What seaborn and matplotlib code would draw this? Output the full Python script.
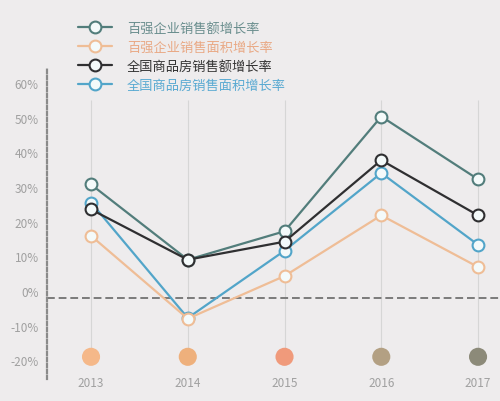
import numpy as np
import pandas as pd
import matplotlib
matplotlib.use("Agg")
import matplotlib.pyplot as plt
from matplotlib.lines import Line2D
import seaborn as sns

sns.set_style("white")
plt.rcParams['font.family'] = ['Noto Sans CJK SC', 'DejaVu Sans']

# data
years = [2013, 2014, 2015, 2016, 2017]
series_names = ["百强企业销售额增长率", "百强企业销售面积增长率",
                "全国商品房销售额增长率", "全国商品房销售面积增长率"]
top100_sales = [30.7, 9.0, 17.2, 50.3, 32.2]
top100_area = [15.9, -8.0, 4.3, 21.8, 6.9]
national_sales = [23.5, 9.0, 14.2, 37.7, 21.8]
national_area = [25.5, -7.8, 11.6, 34.0, 13.3]
yticks = [-20, -10, 0, 10, 20, 30, 40, 50, 60]
ytick_labels = ["-20%", "-10%", "0%", "10%", "20%", "30%", "40%", "50%", "60%"]
dot_colors = ["#f5b889", "#eeb07c", "#f09a7b", "#b3a083", "#8c8a79"]

line_colors = ["#527d7b", "#efbd96", "#2f2f31", "#52a5c9"]
text_colors = ["#6a8e8e", "#e9a985", "#333333", "#5aaad2"]
face = "#f4fafa"
bg = "#eeeced"

df = pd.DataFrame({
    "year": years * 4,
    "value": top100_sales + top100_area + national_sales + national_area,
    "series": sum([[n] * len(years) for n in series_names], []),
})

fig = plt.figure(figsize=(5, 4.02), dpi=100, facecolor=bg)
ax = fig.add_axes([47 / 500, 22 / 402, 453 / 500, 310 / 402])
ax.set_facecolor(bg)

sns.lineplot(data=df, x="year", y="value", hue="series", hue_order=series_names,
             palette=line_colors, marker="o", markersize=8.5, markerfacecolor=face,
             markeredgewidth=1.5, lw=1.6, legend=False, ax=ax, zorder=3)
for ln in ax.lines:
    ln.set_markeredgecolor(ln.get_color())
# orange area line sits above the blue one at 2014, black above teal
ax.lines[1].set_zorder(4)
ax.lines[2].set_zorder(5)

# light vertical guides per year
ax.vlines(years, -19, 55, color="#d6d6d6", lw=0.8, zorder=0)
# reference dashed line
ax.axhline(-2, color="#7a7a7a", lw=1.4, ls=(0, (4, 2)), zorder=1)

# coloured year dots along the bottom
sns.scatterplot(x=years, y=[-19] * len(years), hue=years, palette=dot_colors,
                s=170, edgecolor="none", legend=False, ax=ax, zorder=2)

ax.set_xlim(2012.545, 2017.227)
ax.set_ylim(-25.4, 64)
ax.set_xticks(years)
ax.set_xticklabels([str(y) for y in years])
ax.set_yticks(yticks)
ax.set_yticklabels(ytick_labels)
ax.tick_params(axis="both", length=0, labelsize=8.5, colors="#a0a0a0")
ax.tick_params(axis="y", pad=6)
ax.tick_params(axis="x", pad=-2)
ax.set_xlabel("")
ax.set_ylabel("")
for s in ["top", "right", "bottom"]:
    ax.spines[s].set_visible(False)
ax.spines["left"].set_color("#8a8a8a")
ax.spines["left"].set_linewidth(1.6)
ax.spines["left"].set_linestyle((0, (1.5, 1.2)))

handles = [Line2D([0], [0], color=c, lw=1.6, marker="o", markersize=8.5,
                  markerfacecolor=face, markeredgewidth=1.5) for c in line_colors]
leg = fig.legend(handles, series_names, loc="upper left",
                 bbox_to_anchor=(78 / 500, 1 - 23 / 402), frameon=False,
                 fontsize=9.5, handlelength=2.6, handletextpad=1.1,
                 labelspacing=0.45, borderpad=0, borderaxespad=0)
for t, c in zip(leg.get_texts(), text_colors):
    t.set_color(c)

plt.savefig("out.png", dpi=100, facecolor=bg)
